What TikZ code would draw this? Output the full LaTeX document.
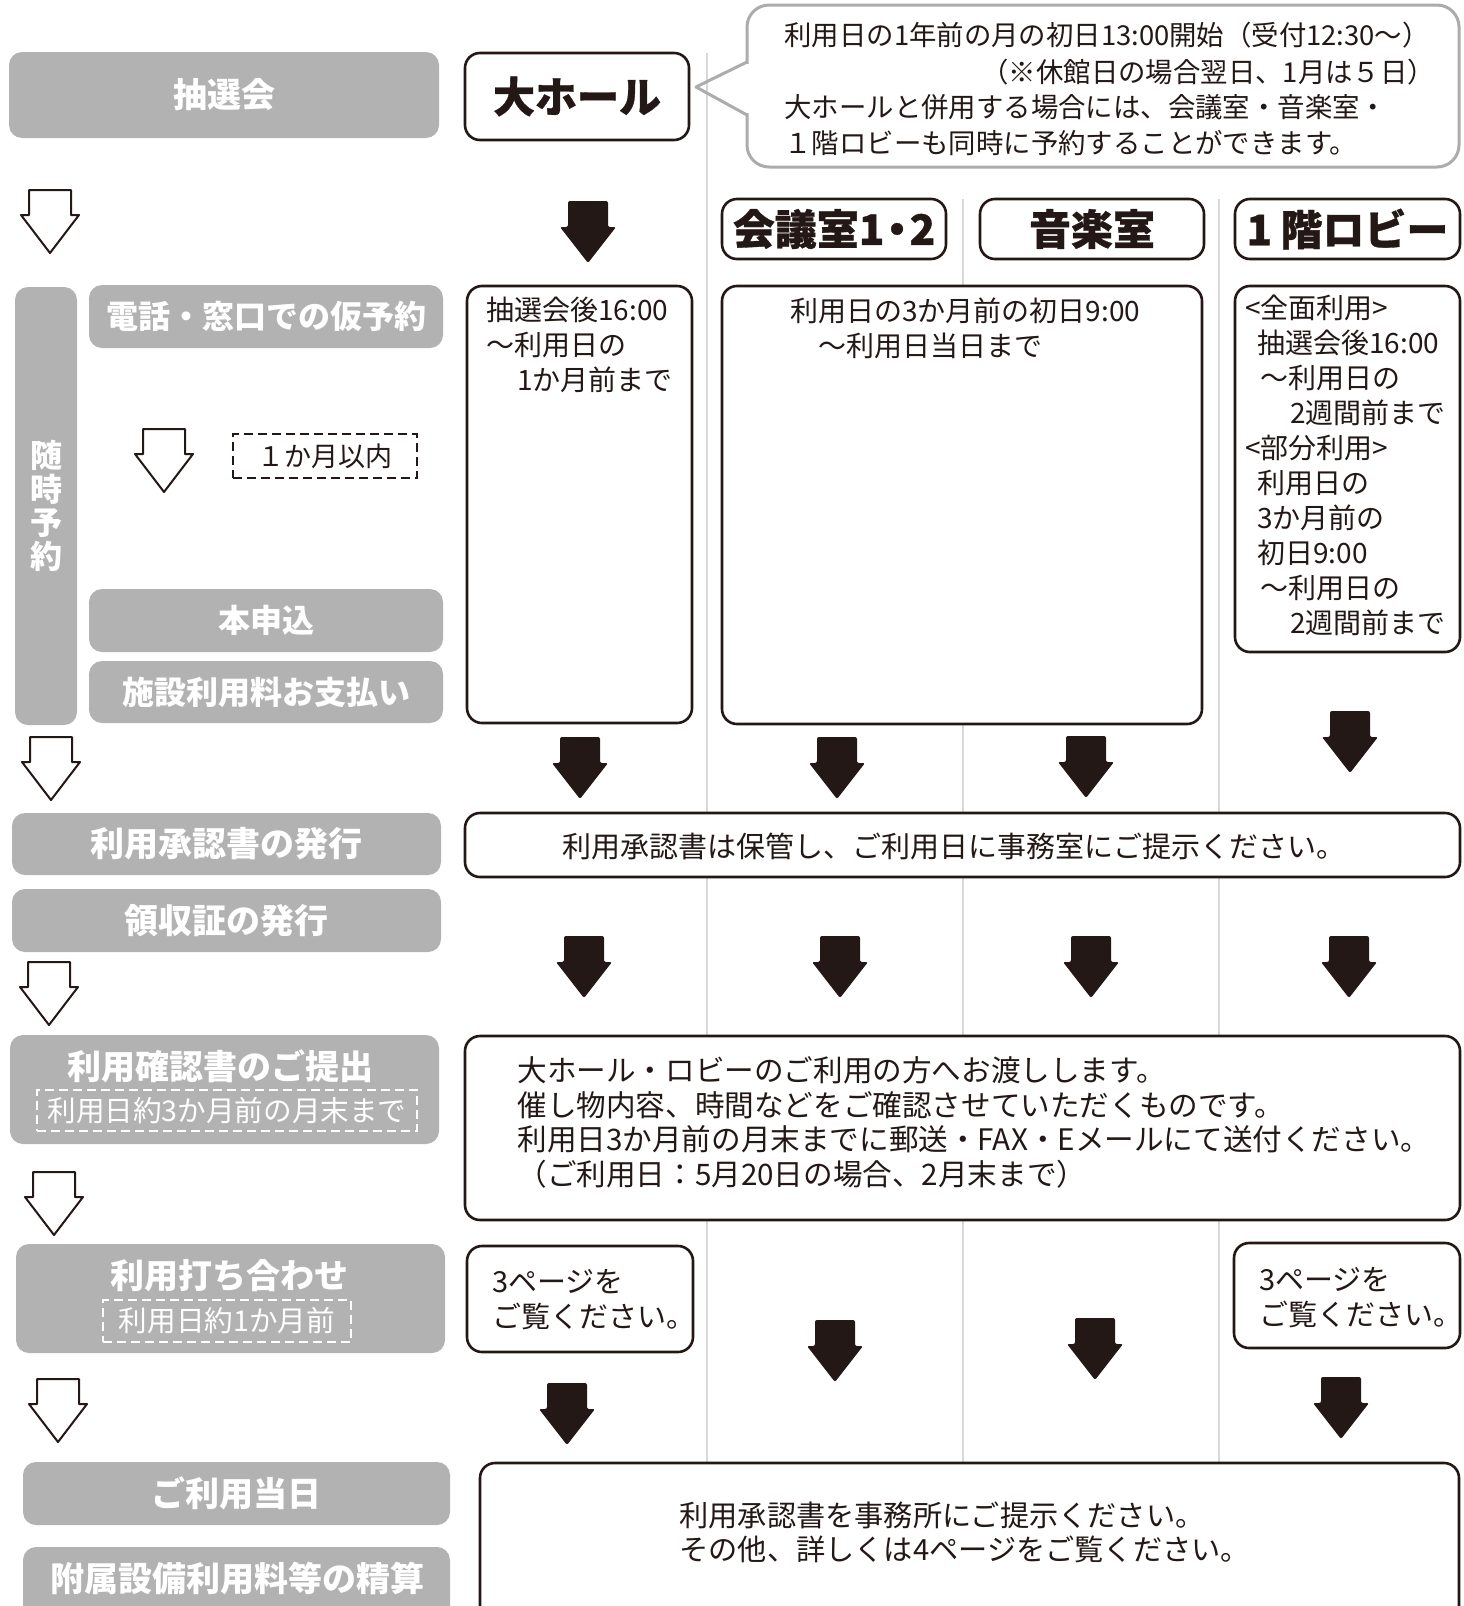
\documentclass[tikz,border=0pt]{standalone}
\usepackage{fontspec}
\setmainfont{Noto Sans CJK JP}
\definecolor{ink}{RGB}{35,24,21}
\definecolor{boxgrey}{RGB}{178,178,178}
\definecolor{divider}{RGB}{216,216,216}
\definecolor{bubline}{RGB}{172,172,172}
\newcommand\fbody{\fontsize{14pt}{17.5pt}\selectfont}
\newcommand\fbig{\fontsize{14.8pt}{17.4pt}\selectfont}
\newcommand\fsmall{\fontsize{13.5pt}{17.5pt}\selectfont}
\newcommand\fpage{\fontsize{14.5pt}{17.5pt}\selectfont}
\newcommand\fsubbox{\fontsize{14.3pt}{17.5pt}\selectfont}
\newcommand\fappr{\fontsize{14.5pt}{17.5pt}\selectfont}
\newcommand\fbub{\fontsize{13.7pt}{18pt}\selectfont}
\newcommand\flast{\fontsize{14.6pt}{17pt}\selectfont}
\newcommand\ftitle{\fontsize{17pt}{20pt}\bfseries\selectfont}
\newcommand\fsubt{\fontsize{16pt}{16.75pt}\bfseries\selectfont}
\newcommand\fhead{\fontsize{21pt}{24pt}\bfseries\addfontfeatures{FakeBold=0.8}\selectfont}
\newcommand\bx[7]{\node[#1, minimum width={(#5-#3)*0.5pt}, minimum height={(#6-#4)*0.5pt}] (#2) at ({(#3+#5)/2},{(#4+#6)/2}) {#7};}
\begin{document}
\begin{tikzpicture}[x=0.5pt,y=-0.5pt,
  greybox/.style={fill=boxgrey, draw=none, rounded corners=6.5pt, inner sep=0pt, text=white, font=\ftitle},
  wbox/.style={draw=ink, line width=1.3pt, fill=white, rounded corners=7.5pt, inner sep=0pt, text=ink},
  hbox/.style={wbox, font=\fhead},
  bubbox/.style={draw=bubline, line width=1.5pt, fill=white, rounded corners=11pt, inner sep=0pt},
  txt/.style={inner sep=0pt, text=ink, font=\fbody, align=left, anchor=north west},
  btxt/.style={inner sep=0pt, text=ink, font=\fbub, anchor=west},
  wdash/.style={draw=white, line width=1pt, dash pattern=on 4.5pt off 2.5pt, inner sep=0pt, text=white, font=\fsubbox},
  kdash/.style={draw=ink, line width=1pt, dash pattern=on 4.5pt off 2.5pt, inner sep=0pt, text=ink, font=\fsmall},
  divline/.style={draw=divider, line width=1pt},
  blackarrow/.pic={\fill[ink, rounded corners=1pt] (-20,0) -- (20,0) -- (20,26) -- (28,26) -- (0,62) -- (-28,26) -- (-20,26) -- cycle;},
  whitearrow/.pic={\draw[ink, line width=1pt, fill=white, line join=round] (-21,0) -- (21,0) -- (21,25) -- (29,25) -- (0,63) -- (-29,25) -- (-21,25) -- cycle;}
]
\useasboundingbox (0,0) rectangle (1463,1606);
\clip (0,0) rectangle (1463,1606);
\fill[white] (0,0) rectangle (1463,1606);

% column dividers
\coordinate (d1t) at (707,53);  \coordinate (d1b) at (707,1463);
\coordinate (d2t) at (963,199); \coordinate (d2b) at (963,1463);
\coordinate (d3t) at (1219,199);\coordinate (d3b) at (1219,1463);
\draw[divline] (d1t) -- (d1b);
\draw[divline] (d2t) -- (d2b);
\draw[divline] (d3t) -- (d3b);

% ---------- left column ----------
\bx{greybox}{lottery}{9}{52}{439}{138}{抽選会}
\pic at (50,190) {whitearrow};
\bx{greybox, font=\fsubt, align=center}{anytime}{15}{287}{77}{725}{随\\時\\予\\約}
\bx{greybox, font=\fsubt}{tel}{89}{285}{443}{348}{電話・窓口での仮予約}
\pic at (164,429) {whitearrow};
\bx{kdash}{month}{233}{434}{417}{478}{１か月以内}
\bx{greybox, font=\fsubt}{apply}{89}{589}{443}{652}{本申込}
\bx{greybox, font=\fsubt}{pay}{89}{661}{443}{723}{施設利用料お支払い}
\pic at (51,737) {whitearrow};
\bx{greybox}{issue}{12}{813}{441}{875}{利用承認書の発行}
\bx{greybox}{receipt}{12}{889}{441}{952}{領収証の発行}
\pic at (49,962) {whitearrow};
\bx{greybox}{confirm}{10}{1035}{439}{1144}{}
\node[inner sep=0pt, font=\ftitle, text=white] (confirmt) at (220,1066) {利用確認書のご提出};
\bx{wdash}{confirmd}{37}{1090}{417}{1131}{利用日約3か月前の月末まで}
\pic at (54,1172) {whitearrow};
\bx{greybox}{meet}{16}{1244}{445}{1353}{}
\node[inner sep=0pt, font=\ftitle, text=white] (meett) at (229,1276) {利用打ち合わせ};
\bx{wdash}{meetd}{103}{1300}{351}{1342}{利用日約1か月前}
\pic at (58,1379) {whitearrow};
\bx{greybox}{day}{23}{1462}{450}{1525}{ご利用当日}
\bx{greybox}{settle}{23}{1547}{450}{1660}{}
\node[inner sep=0pt, font=\ftitle, text=white] (settlet) at (237,1578) {附属設備利用料等の精算};

% ---------- top right ----------
\bx{hbox}{hall}{465}{53}{689}{140}{大ホール}
\bx{bubbox}{bubble}{747}{5}{1459}{167}{}
\fill[white] (744,64) rectangle (750,113);
\coordinate (tailtop) at (747,62);
\coordinate (tailtip) at (696,87);
\coordinate (tailbot) at (747,115);
\draw[bubline, line width=1.5pt, line join=round] (tailtop) -- (tailtip) -- (tailbot);
\node[btxt] (bub1) at (784,35) {利用日の1年前の月の初日13:00開始（受付12:30～）};
\node[btxt] (bub2) at (981,72) {（※休館日の場合翌日、1月は５日）};
\node[btxt] (bub3) at (784,107) {大ホールと併用する場合には、会議室・音楽室・};
\node[btxt] (bub4) at (784,143) {１階ロビーも同時に予約することができます。};

\bx{hbox}{conf}{722}{199}{946}{259}{会議室1\kern-.2em・\kern-.2em2}
\bx{hbox}{music}{980}{199}{1204}{259}{音楽室}
\bx{hbox}{lobby}{1235}{199}{1460}{259}{1\kern.2em 階ロビー}
\pic at (588,201) {blackarrow};

% content boxes
\bx{wbox}{hallc}{467}{286}{692}{723}{}
\bx{wbox}{confc}{722}{286}{1202}{724}{}
\bx{wbox}{lobbyc}{1235}{286}{1460}{652}{}
\node[txt] (hallt) at (486,297) {抽選会後16:00\\～利用日の\\\hspace*{1.1em}1か月前まで};
\node[txt] (conft) at (790,297) {利用日の3か月前の初日9:00\\\hspace*{1em}～利用日当日まで};
\node[txt] (lobbyt) at (1245,295) {<全面利用>\\\hspace*{6pt}抽選会後16:00\\\hspace*{7.5pt}～利用日の\\\hspace*{22.5pt}2週間前まで\\<部分利用>\\\hspace*{6pt}利用日の\\\hspace*{6pt}3か月前の\\\hspace*{6pt}初日9:00\\\hspace*{7.5pt}～利用日の\\\hspace*{22.5pt}2週間前まで};

\pic at (580,737) {blackarrow};
\pic at (837,737) {blackarrow};
\pic at (1086,736) {blackarrow};
\pic at (1350,711) {blackarrow};

\bx{wbox}{approval}{465}{813}{1460}{877}{}
\node[inner sep=0pt, text=ink, font=\fappr] (approvalt) at (954,846) {利用承認書は保管し、ご利用日に事務室にご提示ください。};

\pic at (584,936) {blackarrow};
\pic at (840,936) {blackarrow};
\pic at (1091,936) {blackarrow};
\pic at (1349,936) {blackarrow};

\bx{wbox}{sheet}{465}{1036}{1460}{1220}{}
\node[txt, font=\fbig] (sheett) at (517,1056) {大ホール・ロビーのご利用の方へお渡しします。\\催し物内容、時間などをご確認させていただくものです。\\利用日3か月前の月末までに郵送・FAX・Eメールにて送付ください。\\（ご利用日：5月20日の場合、2月末まで）};

\bx{wbox}{pageL}{467}{1246}{693}{1352}{}
\node[txt, font=\fpage] (pageLt) at (492,1269) {3ページを\\ご覧ください。};
\bx{wbox}{pageR}{1234}{1243}{1460}{1348}{}
\node[txt, font=\fpage] (pageRt) at (1259,1267) {3ページを\\ご覧ください。};

\pic at (567,1383) {blackarrow};
\pic at (835,1320) {blackarrow};
\pic at (1095,1318) {blackarrow};
\pic at (1341,1377) {blackarrow};

\bx{wbox}{lastbox}{480}{1463}{1459}{1660}{}
\node[txt, font=\flast] (lastt) at (679,1501) {利用承認書を事務所にご提示ください。\\その他、詳しくは4ページをご覧ください。};
\end{tikzpicture}
\end{document}
